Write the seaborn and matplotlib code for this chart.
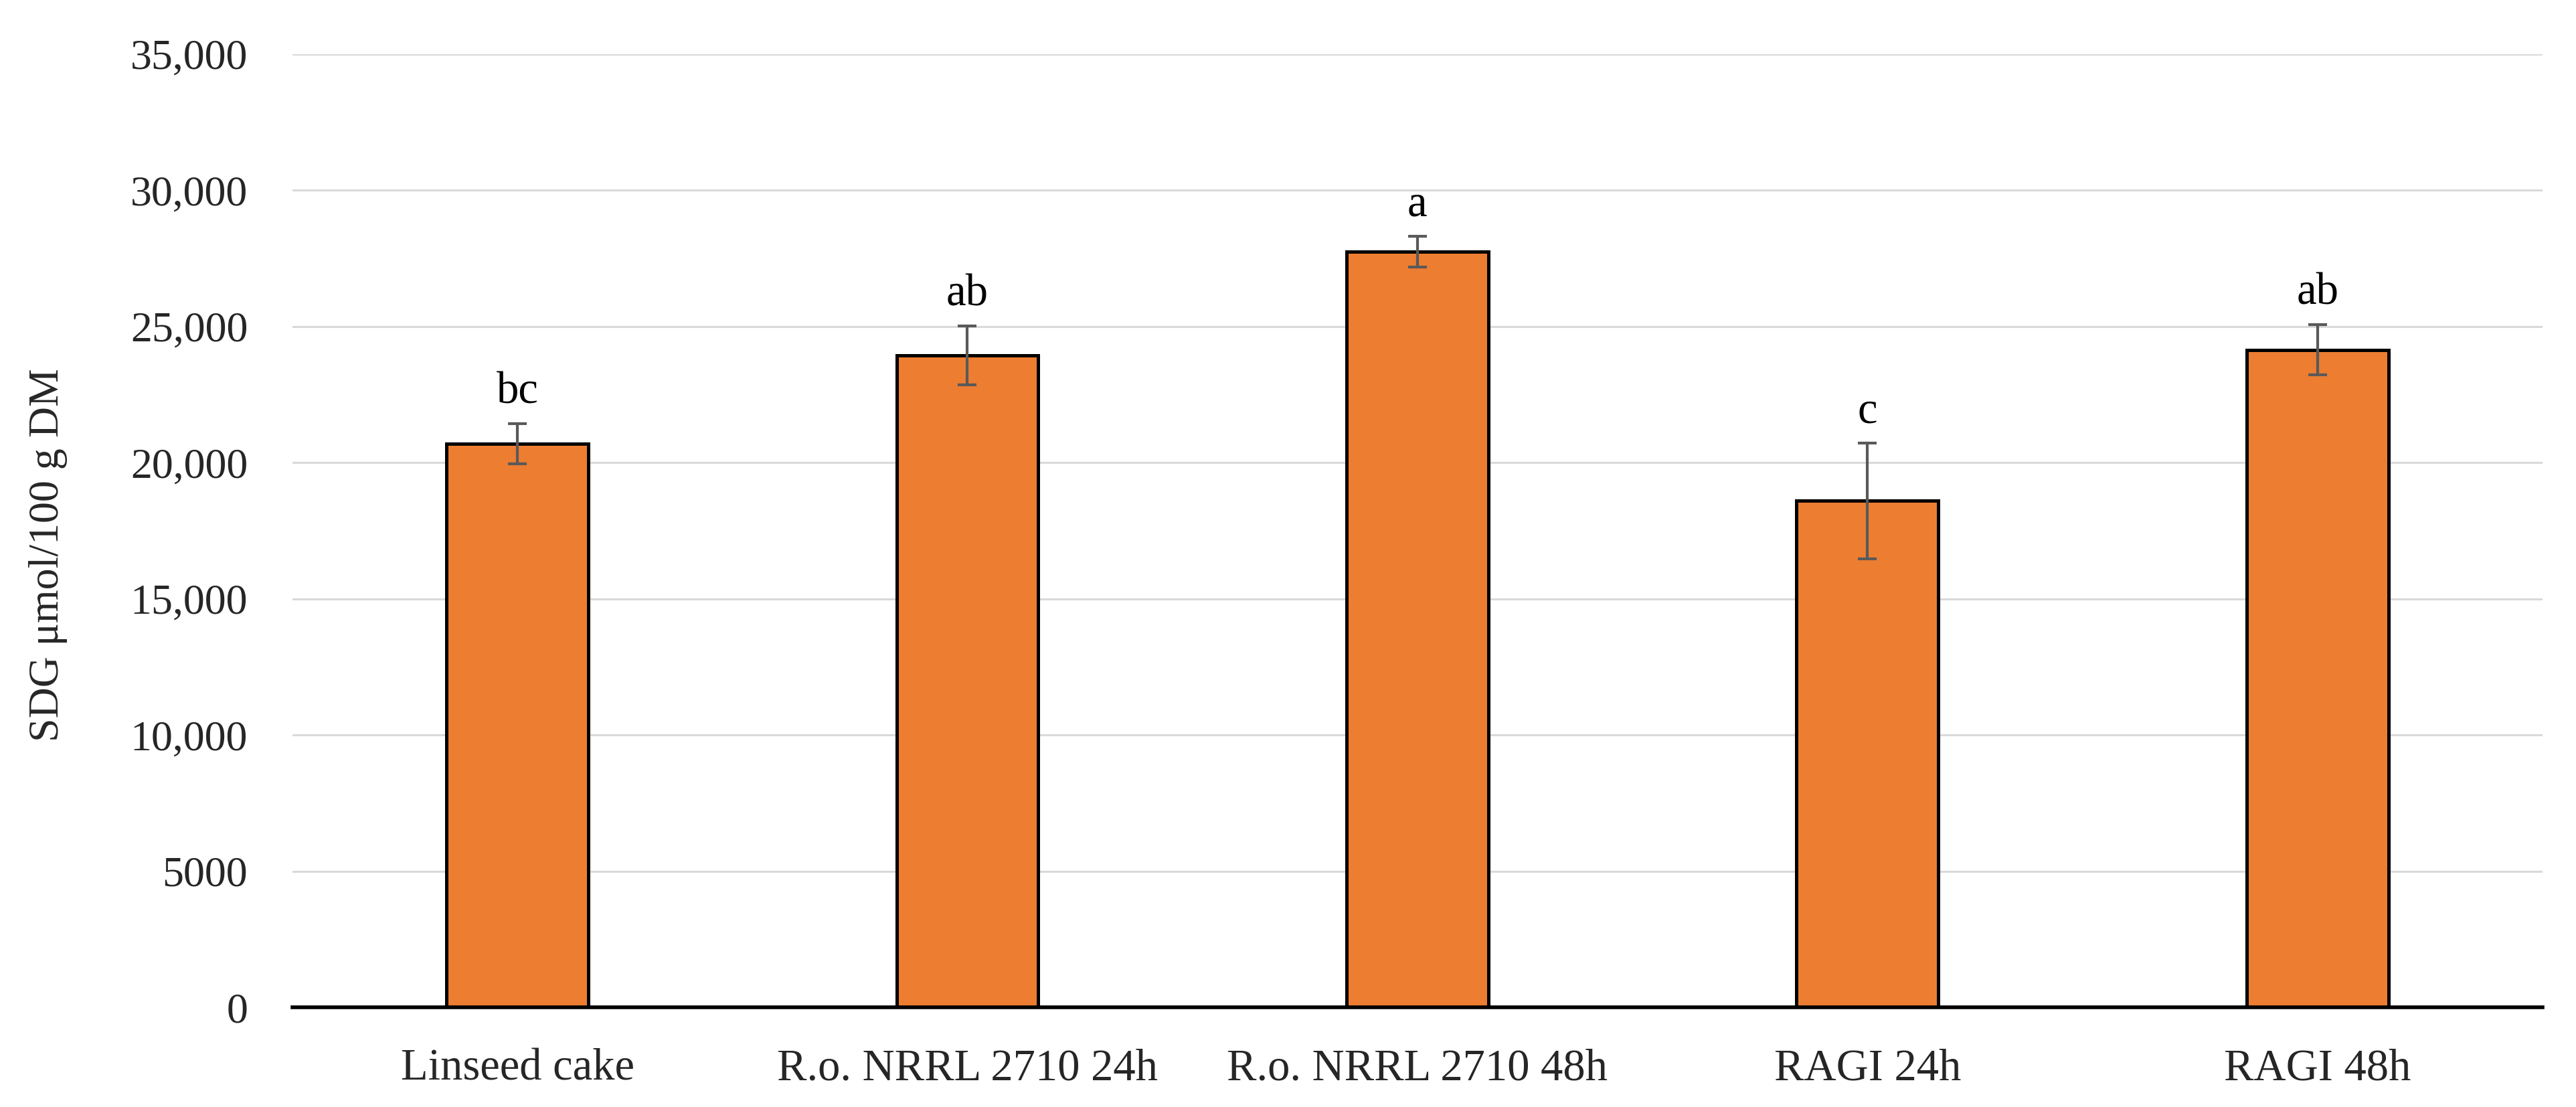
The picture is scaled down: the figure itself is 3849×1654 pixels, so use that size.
import matplotlib.pyplot as plt
import numpy as np
import pandas as pd
import seaborn as sns

# Values
categories = ["Linseed cake", "R.o. NRRL 2710 24h", "R.o. NRRL 2710 48h", "RAGI 24h", "RAGI 48h"]
sdg_mean = [20700, 23950, 27750, 18600, 24150]
sdg_sd = [740, 1080, 560, 2130, 930]
letters = ["bc", "ab", "a", "c", "ab"]
y_ticks = [0, 5000, 10000, 15000, 20000, 25000, 30000, 35000]
y_tick_labels = ["0", "5000", "10,000", "15,000", "20,000", "25,000", "30,000", "35,000"]

df = pd.DataFrame({"sample": categories, "sdg": sdg_mean, "sd": sdg_sd, "letter": letters})

sns.set_theme(style="white")
plt.rcParams["font.family"] = ["Liberation Serif", "DejaVu Serif"]

fig, ax = plt.subplots(figsize=(19.245, 8.27), dpi=200)
fig.subplots_adjust(left=0.1135, right=0.987, top=0.951, bottom=0.090)

sns.barplot(
    data=df, x="sample", y="sdg", color="#ED7D31", saturation=1,
    width=0.315, edgecolor="black", linewidth=1.8, errorbar=None, ax=ax, zorder=3
)

# Error bars (SD) drawn at the bar centers
centers = [p.get_x() + p.get_width() / 2 for p in ax.patches]
ax.errorbar(
    centers, df["sdg"], yerr=df["sd"], fmt="none", ecolor="#595959",
    elinewidth=1.5, capsize=5, capthick=1.5, zorder=4
)

# Significance letters above each error bar
for x, top, lab in zip(centers, df["sdg"] + df["sd"], df["letter"]):
    ax.annotate(lab, (x, top), xytext=(0, 11), textcoords="offset points",
                ha="center", va="baseline", fontsize=24, color="black")

ax.set_ylim(0, 35000)
ax.set_xlim(-0.5, len(categories) - 0.5)
ax.set_yticks(y_ticks)
ax.set_yticklabels(y_tick_labels)
ax.yaxis.grid(True, color="#D9D9D9", linewidth=1.1, zorder=0)
ax.set_axisbelow(True)

for side in ["top", "right", "left"]:
    ax.spines[side].set_visible(False)
ax.spines["bottom"].set_color("black")
ax.spines["bottom"].set_linewidth(2.0)
ax.spines["bottom"].set_zorder(5)

ax.tick_params(axis="y", length=0, pad=24, labelsize=23)
ax.tick_params(axis="x", length=0, pad=22, labelsize=24)
ax.set_xlabel("")
ax.set_ylabel("SDG μmol/100 g DM", fontsize=23)
ax.yaxis.set_label_coords(-0.1, 0.475)

fig.savefig("out.png", dpi=200)
